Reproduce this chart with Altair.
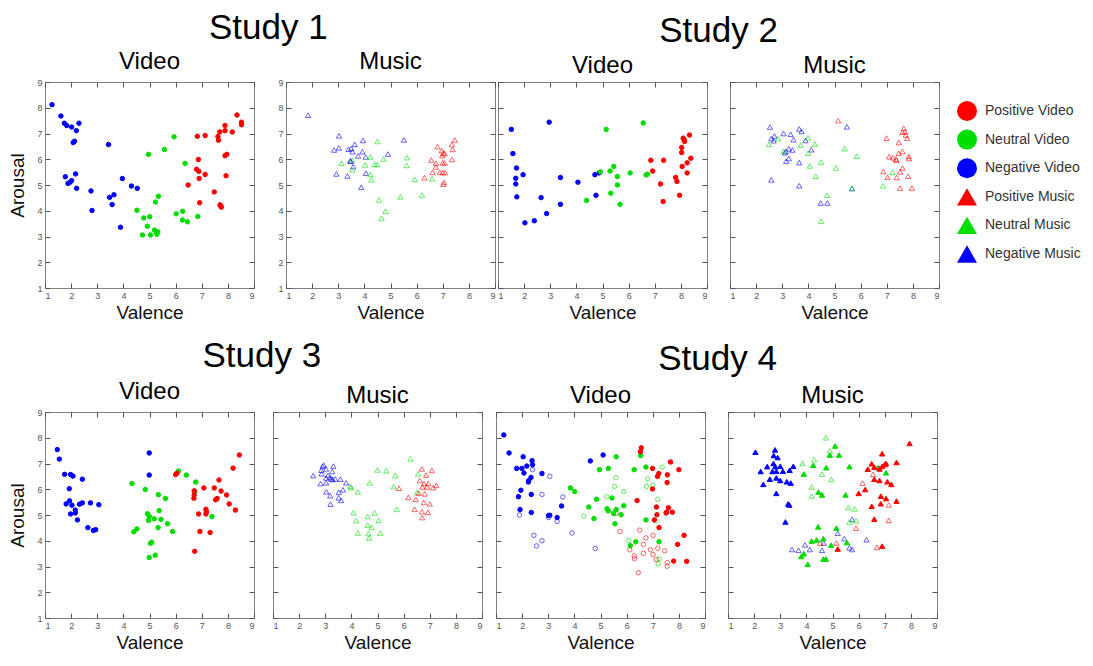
import altair as alt
import pandas as pd

FONT = "Liberation Sans"
TICK_VALUES = [1, 2, 3, 4, 5, 6, 7, 8, 9]
CONDITIONS = ["Positive", "Neutral", "Negative"]
COND_COLORS = ["#FF0000", "#00DD00", "#0000FF"]

LEGEND_LABELS = ["Positive Video", "Neutral Video", "Negative Video",
                 "Positive Music", "Neutral Music", "Negative Music"]
LEGEND_COLORS = ["#FF0000", "#92D050", "#0070C0", "#FF0000", "#92D050", "#0070C0"]
LEGEND_SHAPES = ["circle", "circle", "circle", "triangle-up", "triangle-up", "triangle-up"]

# (valence, arousal) pairs
S1_VIDEO_NEG = [(1.27,8.12),(1.61,7.68),(1.74,7.40),(1.83,7.31),(2.02,7.25),(2.20,7.11),(2.30,7.40),(2.13,6.70),(2.08,6.65),(1.78,5.32),(1.88,5.06),(1.96,5.11),(2.02,5.17),(2.17,5.43),(2.21,4.87),(2.76,4.77),(2.80,4.01),(3.43,6.57),(3.47,4.52),(3.64,4.62),(3.57,4.24),(3.89,3.36),(3.96,5.25),(4.31,4.96),(4.53,4.87)]
S1_VIDEO_NEU = [(4.96,6.19),(5.57,6.38),(5.94,6.87),(6.36,5.84),(4.52,4.02),(4.78,3.72),(5.01,3.77),(5.34,4.56),(5.23,4.34),(4.73,3.06),(4.92,3.40),(5.04,3.06),(5.19,3.25),(5.26,3.15),(5.32,3.18),(5.28,3.09),(6.02,3.88),(6.27,3.98),(6.26,3.64),(6.45,3.57),(6.85,3.78)]
S1_VIDEO_POS = [(6.83,6.89),(7.13,6.92),(6.87,5.99),(6.80,5.61),(6.89,5.53),(6.90,5.25),(7.13,5.41),(6.48,5.00),(6.92,4.31),(7.48,4.73),(7.62,6.88),(7.64,6.74),(7.69,7.06),(7.89,7.31),(7.89,7.11),(8.17,7.06),(8.35,7.72),(8.52,7.44),(8.52,7.34),(7.89,6.14),(7.96,6.19),(7.93,5.36),(7.70,4.23),(7.75,4.14),(7.73,4.18)]

S1_MUSIC_NEG = [(1.85,7.71),(3.03,6.91),(2.84,6.36),(3.02,6.44),(3.39,6.39),(3.50,6.42),(3.55,6.29),(3.63,6.58),(3.57,5.71),(3.46,5.94),(3.48,5.92),(2.93,5.43),(3.35,5.35),(3.88,4.91),(3.76,6.13),(3.92,6.29),(3.95,6.73),(4.05,6.09),(4.06,5.46),(4.90,6.20),(5.51,6.75)]
S1_MUSIC_NEU = [(3.12,5.84),(3.53,5.97),(3.54,5.59),(4.03,5.78),(4.23,6.09),(4.23,5.41),(4.27,5.20),(4.39,5.80),(4.49,5.80),(4.50,6.69),(4.73,6.01),(4.56,4.42),(4.81,3.98),(4.66,3.70),(5.38,4.54),(5.63,6.06),(5.62,5.76),(5.93,5.22),(6.21,4.61),(6.59,5.24)]
S1_MUSIC_POS = [(6.30,5.28),(6.56,5.97),(6.61,5.49),(6.74,5.85),(6.73,5.70),(6.80,6.49),(6.96,6.34),(7.02,6.24),(6.98,6.14),(6.89,5.49),(7.00,5.49),(7.00,5.86),(7.07,5.86),(7.09,5.48),(7.02,5.03),(7.05,5.10),(7.07,6.22),(7.35,5.99),(7.35,6.57),(7.38,6.38),(7.46,6.75)]

S2_VIDEO_NEG = [(1.51,7.16),(1.57,6.22),(1.71,5.66),(1.68,5.26),(1.68,5.04),(1.72,4.54),(1.96,5.40),(2.03,3.53),(2.39,3.61),(2.65,4.51),(2.86,3.89),(2.96,7.44),(3.39,5.29),(3.39,4.25),(4.06,5.11),(4.71,5.40),(4.75,4.60),(4.87,5.47)]
S2_VIDEO_NEU = [(4.92,5.51),(4.39,4.40),(5.14,7.16),(5.29,5.54),(5.43,5.72),(5.57,5.33),(5.57,5.00),(5.32,4.68),(5.67,4.25),(6.06,5.47),(6.56,7.41),(6.67,5.39),(6.72,5.42)]
S2_VIDEO_POS = [(6.85,5.96),(6.92,5.54),(7.34,5.96),(7.22,5.04),(7.32,4.36),(7.80,5.29),(7.85,5.14),(7.95,4.60),(8.03,6.26),(8.03,6.46),(8.09,6.82),(8.13,6.75),(8.14,6.69),(8.33,6.94),(8.05,5.72),(8.24,5.86),(8.24,5.47),(8.38,6.04)]

S2_MUSIC_NEG = [(2.53,7.25),(2.58,6.80),(2.67,6.72),(2.70,6.90),(3.05,7.00),(3.32,6.97),(3.43,6.76),(3.65,7.18),(3.74,7.08),(3.89,6.73),(4.11,6.37),(3.14,6.31),(3.25,6.41),(3.39,6.36),(3.10,6.25),(3.15,5.92),(3.25,6.03),(3.65,5.87),(2.58,5.20),(3.65,4.97),(4.47,4.30),(4.73,4.30),(5.67,4.86),(5.47,7.26)]
S2_MUSIC_NEU = [(2.49,6.58),(2.84,6.80),(3.04,6.30),(3.71,6.54),(3.99,6.83),(3.99,6.23),(4.25,6.59),(4.06,5.74),(4.49,5.89),(4.28,5.34),(5.06,5.66),(5.39,6.41),(5.85,6.12),(4.72,4.60),(4.49,3.59),(5.67,4.88),(6.86,4.97),(7.22,5.49)]
S2_MUSIC_POS = [(5.14,7.50),(6.99,6.82),(7.46,6.65),(7.60,7.05),(7.65,7.20),(7.70,7.07),(7.73,6.94),(7.78,6.82),(7.09,6.10),(7.23,6.06),(7.35,6.01),(7.37,5.96),(7.46,6.23),(7.60,6.30),(7.84,6.11),(7.85,6.03),(6.87,5.52),(7.03,5.30),(7.38,5.29),(7.51,5.51),(7.60,5.66),(7.82,5.34),(7.51,4.88),(7.96,4.88)]

S3_VIDEO_NEG = [(1.47,7.54),(1.55,7.17),(1.75,6.58),(1.98,6.57),(2.07,6.51),(1.93,6.02),(2.43,6.39),(1.81,5.43),(1.94,5.55),(2.03,5.38),(1.98,5.04),(2.16,5.19),(2.16,5.08),(2.24,4.81),(2.32,5.42),(2.43,5.47),(2.74,5.47),(3.06,5.40),(2.64,4.51),(2.85,4.40),(2.94,4.43),(4.99,7.41),(4.99,6.55)]
S3_VIDEO_NEU = [(4.33,6.22),(4.84,5.99),(4.40,4.35),(4.52,4.46),(4.92,5.05),(4.99,4.95),(4.96,4.79),(5.18,4.85),(5.34,5.79),(5.61,5.64),(5.37,5.17),(5.44,4.83),(5.69,4.66),(5.33,4.51),(5.88,4.36),(5.04,3.90),(5.08,3.94),(4.99,3.35),(5.22,3.44),(6.11,6.71),(6.41,6.55),(6.77,6.28),(6.74,5.90),(7.39,4.94)]
S3_VIDEO_POS = [(6.00,6.57),(6.05,6.62),(6.71,5.94),(6.71,5.78),(6.70,5.65),(6.88,5.04),(6.93,4.36),(6.73,3.59),(7.08,6.05),(7.16,5.22),(7.18,5.12),(7.16,5.04),(7.32,4.32),(7.48,6.05),(7.53,5.59),(7.59,5.64),(7.66,6.36),(7.74,5.93),(7.95,5.78),(8.05,5.43),(8.20,6.82),(8.29,5.19),(8.44,7.33)]

S3_MUSIC_NEG = [(2.54,6.53),(2.82,6.22),(3.03,6.25),(3.04,5.90),(2.85,6.74),(2.86,6.60),(2.90,6.89),(2.94,6.94),(3.03,6.79),(3.11,6.54),(3.18,6.46),(3.23,6.40),(3.27,6.69),(3.31,6.90),(3.28,6.38),(3.38,6.40),(3.58,6.39),(3.80,6.25),(3.19,5.75),(3.20,5.42),(3.52,5.88),(3.51,5.67),(3.68,5.98),(3.61,5.57),(3.03,6.44)]
S3_MUSIC_NEU = [(3.96,6.12),(3.99,6.06),(4.25,5.90),(4.08,5.09),(4.19,4.78),(4.25,4.30),(4.70,6.25),(5.00,6.75),(5.34,6.72),(5.68,6.53),(5.62,6.10),(4.89,5.08),(4.62,4.94),(4.77,4.52),(5.04,4.79),(5.11,4.30),(4.65,4.28),(4.68,4.11),(4.62,4.61),(5.74,5.22),(6.26,7.18),(6.55,6.60),(6.51,5.87)]
S3_MUSIC_POS = [(5.82,6.04),(6.18,5.68),(6.46,5.61),(6.42,5.22),(6.62,6.34),(6.70,6.79),(6.86,6.55),(7.08,6.73),(6.72,6.09),(6.90,6.09),(6.78,6.22),(6.94,6.22),(7.13,6.06),(7.25,6.15),(6.81,5.82),(6.77,5.49),(7.00,5.43),(6.70,5.13),(6.93,5.10),(6.71,4.90),(6.58,5.85)]

S4_VIDEO_NEG_FILLED = [(1.30,8.11),(1.50,7.41),(2.04,7.26),(1.79,6.81),(1.99,6.81),(2.18,6.90),(2.38,7.11),(2.40,6.95),(2.07,6.63),(2.34,6.46),(2.25,6.33),(2.24,6.28),(1.95,5.96),(1.86,5.71),(2.35,5.80),(1.92,5.21),(2.35,5.10),(2.76,6.61),(3.01,4.98),(3.06,4.99),(3.34,4.90),(3.51,5.35),(4.61,7.10),(5.10,7.33)]
S4_VIDEO_NEG_OPEN = [(2.40,6.76),(1.90,5.00),(3.06,6.50),(2.76,5.80),(3.56,5.70),(3.01,4.90),(3.34,4.75),(2.45,4.21),(2.76,4.00),(2.55,3.80),(3.91,4.30),(4.80,3.70)]
S4_VIDEO_NEU_FILLED = [(3.85,6.05),(4.01,5.91),(4.55,5.31),(4.85,5.61),(4.75,4.86),(4.96,6.76),(5.30,6.81),(5.60,7.26),(5.44,5.66),(5.25,5.24),(5.30,5.16),(5.60,5.21),(5.50,5.06),(5.79,5.01),(5.89,5.36),(5.55,4.66),(6.29,6.76),(6.54,7.31),(6.74,6.86),(6.35,3.96),(6.14,3.81),(6.74,4.81),(7.24,3.96)]
S4_VIDEO_NEU_OPEN = [(4.36,4.95),(5.24,5.71),(5.54,6.11),(5.59,6.45),(5.89,5.91),(6.81,6.41),(6.76,6.11),(7.00,6.16),(7.36,6.86),(7.19,5.61),(7.12,4.76),(6.08,4.01),(7.24,3.30),(7.21,3.11)]
S4_VIDEO_POS_FILLED = [(6.56,7.61),(6.53,7.46),(6.99,6.81),(7.18,6.50),(7.23,6.61),(7.68,7.06),(7.56,6.56),(8.00,6.76),(7.55,6.26),(6.99,6.01),(6.40,5.56),(7.14,5.31),(7.60,5.28),(7.53,5.11),(7.51,5.08),(7.75,5.11),(7.16,5.01),(7.06,4.81),(7.24,4.51),(8.20,4.21),(7.95,3.86),(7.80,3.21),(8.30,3.20)]
S4_VIDEO_POS_OPEN = [(5.60,5.06),(5.75,4.36),(6.50,4.41),(6.74,4.11),(7.01,4.21),(6.12,3.65),(6.29,3.41),(6.30,3.30),(6.64,3.86),(6.64,3.51),(6.91,3.65),(7.01,3.46),(7.19,3.71),(7.46,3.61),(7.14,3.27),(7.56,3.15),(7.55,3.01),(6.45,2.76)]

S4_MUSIC_NEG_FILLED = [(2.05,7.44),(2.25,6.69),(2.35,6.19),(2.50,6.88),(2.60,6.39),(2.70,6.69),(2.75,7.31),(2.80,7.53),(2.90,7.23),(2.74,7.00),(2.81,6.88),(2.85,6.70),(2.85,6.44),(3.00,6.89),(3.00,6.34),(3.10,6.70),(3.25,6.29),(3.36,6.74),(3.50,6.89),(3.40,6.24),(2.85,5.84),(3.30,5.43),(3.35,5.39),(3.20,4.73)]
S4_MUSIC_NEG_OPEN = [(3.45,3.66),(3.70,3.63),(3.95,3.84),(4.13,3.66),(4.60,3.63),(4.66,3.91),(5.20,4.29),(5.45,4.08),(5.65,3.73),(5.75,3.66),(5.75,4.83),(6.30,4.04)]
S4_MUSIC_NEU_FILLED = [(5.10,7.68),(4.90,7.33),(5.25,7.33),(3.90,6.59),(4.26,6.93),(4.76,6.84),(4.46,5.89),(4.60,5.78),(5.65,6.88),(5.50,5.78),(4.45,4.54),(5.15,4.49),(4.20,3.99),(4.39,4.03),(4.65,4.08),(4.95,3.83),(5.55,3.93),(3.90,3.50),(3.80,3.39),(4.05,3.09),(4.65,3.29),(4.75,3.29),(6.75,6.84),(7.05,6.64)]
S4_MUSIC_NEU_OPEN = [(4.75,8.00),(4.90,7.49),(3.85,7.00),(4.30,7.15),(4.60,6.59),(4.95,6.38),(4.20,6.09),(4.20,5.74),(5.60,5.29),(5.85,5.24),(5.65,4.73),(5.90,4.78)]
S4_MUSIC_POS_FILLED = [(6.50,6.99),(6.35,6.78),(6.60,6.86),(6.80,6.79),(6.90,6.89),(7.00,6.96),(7.05,7.00),(6.90,7.38),(6.60,6.39),(6.80,6.34),(7.10,6.29),(7.25,6.19),(7.45,7.04),(7.95,7.78),(6.25,5.99),(6.00,5.84),(6.85,5.73),(7.05,5.64),(6.85,5.44),(6.50,5.34),(7.45,5.54),(6.60,4.84),(6.90,3.79),(5.20,3.68)]
S4_MUSIC_POS_OPEN = [(6.15,6.24),(6.55,6.58),(7.15,5.39),(7.15,4.79),(5.90,4.49),(4.53,3.91),(5.15,3.91),(6.70,3.74)]


def make_frame(groups):
    rows = []
    for cond, style, pts in groups:
        for v, a in pts:
            rows.append({"valence": v, "arousal": a, "cond": cond, "style": style})
    return pd.DataFrame(rows)


PW, PH = 209, 206


def panel(df, shape, size, title, ylabels, ytitle):
    xscale = alt.Scale(domain=[1, 9], nice=False, zero=False)
    yscale = alt.Scale(domain=[1, 9], nice=False, zero=False)
    cscale = alt.Scale(domain=CONDITIONS, range=COND_COLORS)
    yaxis_kw = dict(values=TICK_VALUES, offset=-5, labels=ylabels, labelPadding=3, format="d")
    if ytitle:
        yaxis_kw.update(title=ytitle, titlePadding=9)
    else:
        yaxis_kw.update(title=None)
    base = alt.Chart(df)
    pts = base.mark_point(shape=shape, size=size, strokeWidth=1, opacity=1).encode(
        x=alt.X("valence:Q", scale=xscale,
                axis=alt.Axis(values=TICK_VALUES, offset=-5, labelPadding=3, format="d",
                              title="Valence", titlePadding=3)),
        y=alt.Y("arousal:Q", scale=yscale, axis=alt.Axis(**yaxis_kw)),
        stroke=alt.Stroke("cond:N", scale=cscale, legend=None),
        fill=alt.Fill("cond:N", scale=cscale, legend=None),
        fillOpacity=alt.condition("datum.style == 'filled'", alt.value(1), alt.value(0)),
        strokeOpacity=alt.condition("datum.style == 'filled'", alt.value(1), alt.value(0.6)),
    )
    mirror = base.mark_point(opacity=0).encode(
        x=alt.X("valence:Q", scale=xscale,
                axis=alt.Axis(orient="top", values=TICK_VALUES, offset=-5, labels=False, title=None)),
        y=alt.Y("arousal:Q", scale=yscale,
                axis=alt.Axis(orient="right", values=TICK_VALUES, offset=-5, labels=False, title=None)),
    )
    return alt.layer(pts, mirror).resolve_axis(x="independent", y="independent").properties(
        width=PW, height=PH,
        title=alt.Title(title, fontSize=24, font=FONT, fontWeight="normal", color="#000",
                        frame="group", anchor="middle", offset=4),
    )


p1 = panel(make_frame([("Negative", "filled", S1_VIDEO_NEG), ("Neutral", "filled", S1_VIDEO_NEU),
                       ("Positive", "filled", S1_VIDEO_POS)]), "circle", 20, "Video", True, "Arousal")
p2 = panel(make_frame([("Negative", "open", S1_MUSIC_NEG), ("Neutral", "open", S1_MUSIC_NEU),
                       ("Positive", "open", S1_MUSIC_POS)]), "triangle-up", 28, "Music", True, None)
p3 = panel(make_frame([("Negative", "filled", S2_VIDEO_NEG), ("Neutral", "filled", S2_VIDEO_NEU),
                       ("Positive", "filled", S2_VIDEO_POS)]), "circle", 20, "Video", False, None)
p4 = panel(make_frame([("Negative", "open", S2_MUSIC_NEG), ("Neutral", "open", S2_MUSIC_NEU),
                       ("Positive", "open", S2_MUSIC_POS)]), "triangle-up", 28, "Music", False, None)
p5 = panel(make_frame([("Negative", "filled", S3_VIDEO_NEG), ("Neutral", "filled", S3_VIDEO_NEU),
                       ("Positive", "filled", S3_VIDEO_POS)]), "circle", 20, "Video", True, "Arousal")
p6 = panel(make_frame([("Negative", "open", S3_MUSIC_NEG), ("Neutral", "open", S3_MUSIC_NEU),
                       ("Positive", "open", S3_MUSIC_POS)]), "triangle-up", 28, "Music", False, None)
p7 = panel(make_frame([("Negative", "open", S4_VIDEO_NEG_OPEN), ("Neutral", "open", S4_VIDEO_NEU_OPEN),
                       ("Positive", "open", S4_VIDEO_POS_OPEN),
                       ("Negative", "filled", S4_VIDEO_NEG_FILLED), ("Neutral", "filled", S4_VIDEO_NEU_FILLED),
                       ("Positive", "filled", S4_VIDEO_POS_FILLED)]), "circle", 20, "Video", False, None)
p8 = panel(make_frame([("Negative", "open", S4_MUSIC_NEG_OPEN), ("Neutral", "open", S4_MUSIC_NEU_OPEN),
                       ("Positive", "open", S4_MUSIC_POS_OPEN),
                       ("Negative", "filled", S4_MUSIC_NEG_FILLED), ("Neutral", "filled", S4_MUSIC_NEU_FILLED),
                       ("Positive", "filled", S4_MUSIC_POS_FILLED)]), "triangle-up", 28, "Music", False, None)


def study(a, b, name, spacing, dx, offset):
    return alt.hconcat(a, b, spacing=spacing,
                       title=alt.Title(name, fontSize=35, font=FONT, fontWeight="normal", color="#000",
                                       anchor="middle", frame="bounds", offset=offset, dx=dx))


legend_df = pd.DataFrame({"label": LEGEND_LABELS})
leg_y = alt.Y("label:N", sort=LEGEND_LABELS, axis=None,
              scale=alt.Scale(type="point", range=[29, 172], padding=0))
legend_marks = alt.Chart(legend_df).mark_point(filled=True, size=400, opacity=1).encode(
    y=leg_y,
    fill=alt.Fill("label:N", scale=alt.Scale(domain=LEGEND_LABELS, range=LEGEND_COLORS), legend=None),
    shape=alt.Shape("label:N", scale=alt.Scale(domain=LEGEND_LABELS, range=LEGEND_SHAPES), legend=None),
)
legend_text = alt.Chart(legend_df).mark_text(align="left", baseline="middle", dx=18, fontSize=14,
                                              font=FONT, color="#333").encode(
    y=leg_y, text="label:N")
legend_chart = alt.layer(legend_marks, legend_text).properties(
    width=22, height=200, view=alt.ViewBackground(strokeOpacity=0))

studies_top = alt.hconcat(study(p1, p2, "Study 1", 22, 16, 4), study(p3, p4, "Study 2", 21, 0, 4),
                          spacing=1)
row1 = alt.hconcat(studies_top, legend_chart, spacing=16)
row2 = alt.hconcat(study(p5, p6, "Study 3", 17, 16, 6), study(p7, p8, "Study 4", 21, 1, 6), spacing=12)

chart = alt.vconcat(row1, row2, spacing=15,
                    padding={"top": 2, "left": 0, "right": 0, "bottom": 0}).configure_view(
    stroke="#808080", strokeWidth=1
).configure_axis(
    domain=False, grid=False, tickColor="#555", tickSize=5, tickWidth=1,
    labelFont=FONT, labelFontSize=9, labelColor="#555",
    titleFont=FONT, titleFontSize=19, titleFontWeight="normal", titleColor="#111",
).configure_title(font=FONT, fontWeight="normal", color="#000")

chart.save("out.html", embed_options={"renderer": "svg", "actions": False})
